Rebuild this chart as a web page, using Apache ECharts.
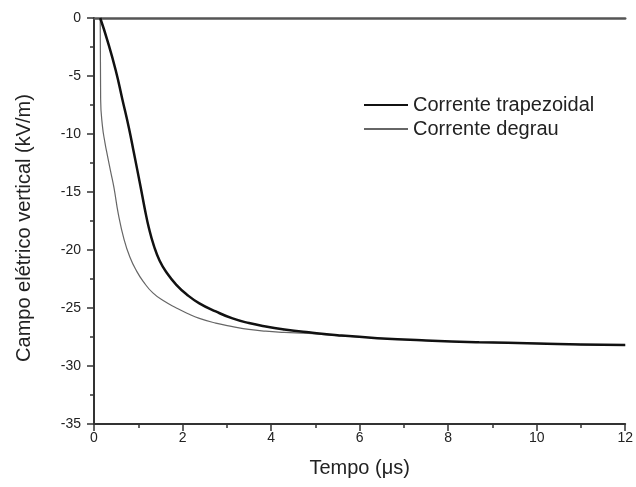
<!DOCTYPE html>
<html>
<head>
<meta charset="utf-8">
<script src="https://cdn.jsdelivr.net/npm/echarts@6/dist/echarts.min.js"></script>
<style>
  html, body { margin: 0; padding: 0; background: #fff; }
  #chart { width: 636px; height: 487px; }
</style>
</head>
<body>
<div id="chart"></div>
<script>
// Vertical electric field (kV/m) vs time (µs) for two return-stroke current shapes
const seriesNames = ['Corrente trapezoidal', 'Corrente degrau'];

// [time µs, field kV/m]
const trapezoidal = [
  [0.14, 0], [0.3, -1.9], [0.49, -4.5], [0.64, -7.0], [0.79, -9.5],
  [0.9, -11.6], [1.05, -14.5], [1.15, -16.5], [1.24, -18.1], [1.35, -19.6],
  [1.48, -20.9], [1.65, -22.0], [1.86, -23.0], [2.1, -23.85], [2.38, -24.6],
  [2.75, -25.3], [3.13, -25.9], [3.5, -26.3], [3.88, -26.6], [4.3, -26.85],
  [4.85, -27.1], [5.5, -27.35], [6.4, -27.6], [7.5, -27.8], [8.7, -27.95],
  [10, -28.05], [11, -28.15], [12, -28.2]
];

const degrau = [
  [0.14, 0], [0.15, -7.0], [0.19, -9.3], [0.25, -10.8], [0.30, -11.8],
  [0.38, -13.3], [0.45, -14.6], [0.55, -16.9], [0.68, -19.1], [0.81, -20.6],
  [0.96, -21.8], [1.11, -22.7], [1.33, -23.7], [1.6, -24.45], [1.86, -25.0],
  [2.1, -25.45], [2.38, -25.9], [2.75, -26.3], [3.13, -26.6], [3.5, -26.85],
  [3.88, -27.0], [4.3, -27.1], [4.85, -27.2], [5.5, -27.38],
  [6.4, -27.6], [7.5, -27.8], [8.7, -27.95], [10, -28.05], [11, -28.15], [12, -28.2]
];

const xTicks = { min: 0, max: 12, interval: 2 };
const yTicks = { min: -35, max: 0, interval: 5 };

const axisColor = '#333';
const textColor = '#222';
const font = 'Liberation Sans, Arial, sans-serif';

const chart = echarts.init(document.getElementById('chart'), null, { renderer: 'canvas' });

chart.setOption({
  animation: false,
  backgroundColor: '#fff',
  grid: { left: 94, right: 8, top: 18, bottom: 63, containLabel: false },
  legend: {
    orient: 'vertical',
    left: 358,
    top: 90,
    itemWidth: 44,
    itemHeight: 14,
    itemGap: 4,
    itemStyle: { opacity: 0, borderWidth: 0 },
    textStyle: { fontSize: 20, color: textColor, fontFamily: font },
    data: seriesNames
  },
  xAxis: [{
    type: 'value',
    min: xTicks.min, max: xTicks.max, interval: xTicks.interval,
    name: 'Tempo (\u03bcs)',
    nameLocation: 'middle',
    nameGap: 34,
    nameTextStyle: { fontSize: 20, color: textColor, fontFamily: font },
    axisLine: { onZero: false, lineStyle: { color: axisColor, width: 2 } },
    axisTick: { inside: false, length: 7, lineStyle: { color: axisColor, width: 1.5 } },
    minorTick: { show: true, splitNumber: 2, length: 4, lineStyle: { color: axisColor, width: 1.5 } },
    axisLabel: { fontSize: 14, color: textColor, fontFamily: font, margin: 7 },
    splitLine: { show: false }
  }, {
    type: 'value',
    position: 'top',
    min: xTicks.min, max: xTicks.max,
    axisLine: { onZero: false, lineStyle: { color: '#555', width: 2.5 } },
    axisTick: { show: false },
    axisLabel: { show: false },
    splitLine: { show: false }
  }],
  yAxis: {
    type: 'value',
    min: yTicks.min, max: yTicks.max, interval: yTicks.interval,
    name: 'Campo el\u00e9trico vertical (kV/m)',
    nameLocation: 'middle',
    nameGap: 60,
    nameTextStyle: { fontSize: 20, color: textColor, fontFamily: font, padding: [0, 14, 0, 0] },
    axisLine: { onZero: false, lineStyle: { color: axisColor, width: 2 } },
    axisTick: { inside: false, length: 7, lineStyle: { color: axisColor, width: 1.5 } },
    minorTick: { show: true, splitNumber: 2, length: 4, lineStyle: { color: axisColor, width: 1.5 } },
    axisLabel: { fontSize: 14, color: textColor, fontFamily: font, margin: 13 },
    splitLine: { show: false }
  },
  series: [{
    name: seriesNames[0],
    type: 'line',
    data: trapezoidal,
    symbol: 'none',
    smooth: 0.5,
    lineStyle: { color: '#111', width: 2.5 },
    itemStyle: { color: '#111' },
    z: 3
  }, {
    name: seriesNames[1],
    type: 'line',
    data: degrau,
    symbol: 'none',
    smooth: 0.5,
    lineStyle: { color: '#666', width: 1.2 },
    itemStyle: { color: '#666' },
    z: 2
  }]
});
</script>
</body>
</html>
